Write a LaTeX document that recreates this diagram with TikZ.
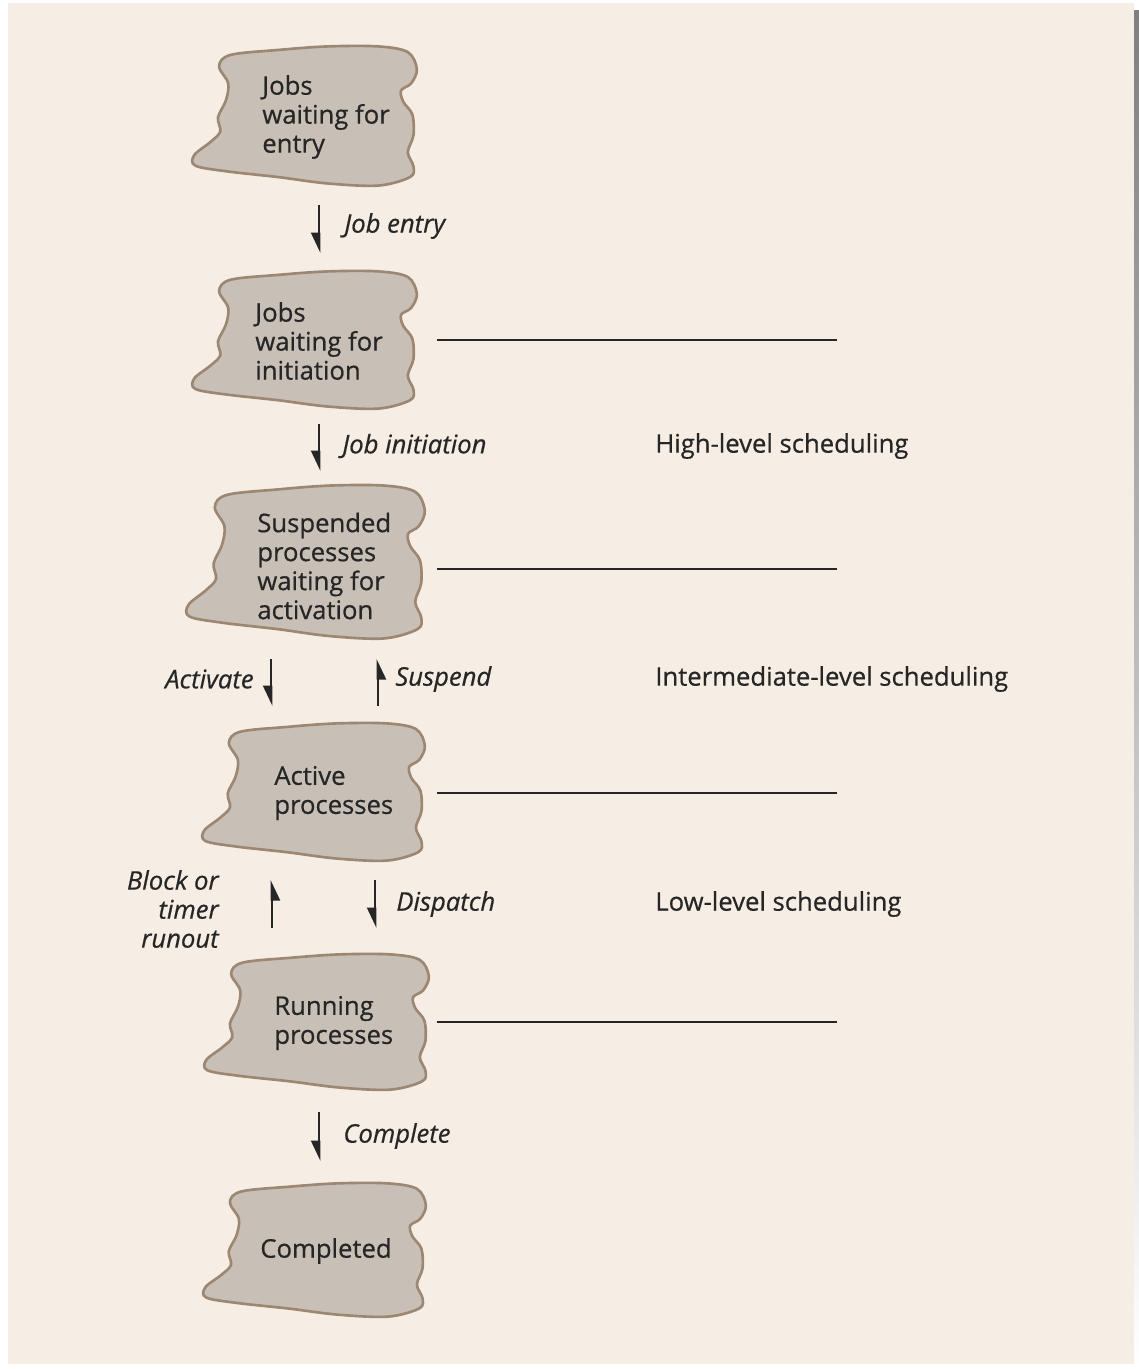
\documentclass[tikz,border=0pt]{standalone}
\usepackage{fontspec}
\setmainfont{Open Sans}[UprightFeatures={FakeBold=0.6}, ItalicFeatures={FakeBold=0.6}]
\usetikzlibrary{arrows.meta,backgrounds}
\definecolor{paper}{HTML}{F6EEE4}
\definecolor{shade}{HTML}{B9BEBE}
\definecolor{blobfill}{HTML}{C8C0B6}
\definecolor{blobline}{HTML}{9B8773}
\definecolor{ink}{HTML}{262626}

\tikzset{
  state/.style={align=left, anchor=west, text=ink, inner sep=0pt,
    font=\fontsize{14.6}{16.5}\selectfont},
  act/.style={text=ink, inner sep=0pt, font=\fontsize{14.6}{16.5}\selectfont\itshape},
  lvl/.style={anchor=west, text=ink, inner sep=0pt, font=\fontsize{14.6}{16.5}\selectfont},
  flow/.style={line width=1.5pt, ink, -{Triangle[right,length=10pt,width=9pt]}},
  rule/.style={line width=1.1pt, ink},
}
% wobbly outline round (x,y), half width, half height
\newcommand\procblob[4]{%
  \begin{scope}[shift={(#1,#2)}, xscale=#3, yscale=#4]
    \draw[blobline, fill=blobfill, line width=1.5pt] plot[smooth cycle, tension=0.55] coordinates {
      (-0.66,-0.86) (-0.24,-0.93) (0.20,-0.98) (0.65,-0.98) (0.91,-0.90) (0.99,-0.66)
      (0.94,-0.46) (0.85,-0.36) (0.87,-0.20) (0.95,-0.02) (0.96,0.27) (0.91,0.51)
      (0.96,0.71) (0.93,0.86) (0.65,0.98) (0.20,0.95) (-0.24,0.86) (-0.69,0.78)
      (-0.97,0.70) (-0.98,0.55) (-0.84,0.37) (-0.75,0.22) (-0.77,0.02) (-0.70,-0.22)
      (-0.68,-0.46) (-0.76,-0.70)};
  \end{scope}}

\begin{document}
\begin{tikzpicture}[x=0.02cm, y=-0.02cm]
  \useasboundingbox (0,0) rectangle (1139,1369);
  \fill[shade] (14,10) rectangle (1139,1369);
  \fill[paper] (8,3) rectangle (1134,1364);

  \procblob{305}{116}{113}{71}
  \procblob{305}{340}{113}{70}
  \procblob{306}{562}{120}{78}
  \procblob{314}{792}{112}{70}
  \procblob{317}{1022}{113}{69}
  \procblob{315}{1250}{112}{68}

  \node[state] (entry) at (262,117) {Jobs\\waiting for\\entry};
  \node[state] (init) at (255,341) {Jobs\\waiting for\\initiation};
  \node[state] (susp) at (257,566) {Suspended\\processes\\waiting for\\activation};
  \node[state] (active) at (274,793) {Active\\processes};
  \node[state] (run) at (274,1023) {Running\\processes};
  \node[state] (done) at (260,1251) {Completed};

  \coordinate (e1) at (319,205);  \coordinate (e2) at (319,253);
  \coordinate (i1) at (319,424);  \coordinate (i2) at (319,471);
  \coordinate (a1) at (271,659);  \coordinate (a2) at (271,706);
  \coordinate (s1) at (378,706);  \coordinate (s2) at (378,659);
  \coordinate (b1) at (272,928);  \coordinate (b2) at (272,880);
  \coordinate (d1) at (375,880);  \coordinate (d2) at (375,928);
  \coordinate (c1) at (319,1112); \coordinate (c2) at (319,1161);

  \draw[flow] (e1) -- (e2);
  \draw[flow] (i1) -- (i2);
  \draw[flow] (a1) -- (a2);
  \draw[flow] (s1) -- (s2);
  \draw[flow] (b1) -- (b2);
  \draw[flow] (d1) -- (d2);
  \draw[flow] (c1) -- (c2);

  \node[act, anchor=west] (jentry) at (344,226) {Job entry};
  \node[act, anchor=west] (jinit) at (342,446) {Job initiation};
  \node[act, anchor=east] (activate) at (254,679) {Activate};
  \node[act, anchor=west] (suspend) at (395,679) {Suspend};
  \node[act, anchor=east, align=right] (block) at (219,909) {Block or\\timer\\runout};
  \node[act, anchor=west] (dispatch) at (396,904) {Dispatch};
  \node[act, anchor=west] (complete) at (343,1136) {Complete};

  \coordinate (r1a) at (437,340);  \coordinate (r1b) at (837,340);
  \coordinate (r2a) at (437,569);  \coordinate (r2b) at (837,569);
  \coordinate (r3a) at (437,793);  \coordinate (r3b) at (837,793);
  \coordinate (r4a) at (437,1022); \coordinate (r4b) at (837,1022);
  \draw[rule, line width=1.6pt] (r1a) -- (r1b);
  \draw[rule] (r2a) -- (r2b);
  \draw[rule] (r3a) -- (r3b);
  \draw[rule] (r4a) -- (r4b);

  \node[lvl] (high) at (655,446) {High-level scheduling};
  \node[lvl] (mid) at (655,679) {Intermediate-level scheduling};
  \node[lvl] (low) at (655,904) {Low-level scheduling};
\end{tikzpicture}
\end{document}
